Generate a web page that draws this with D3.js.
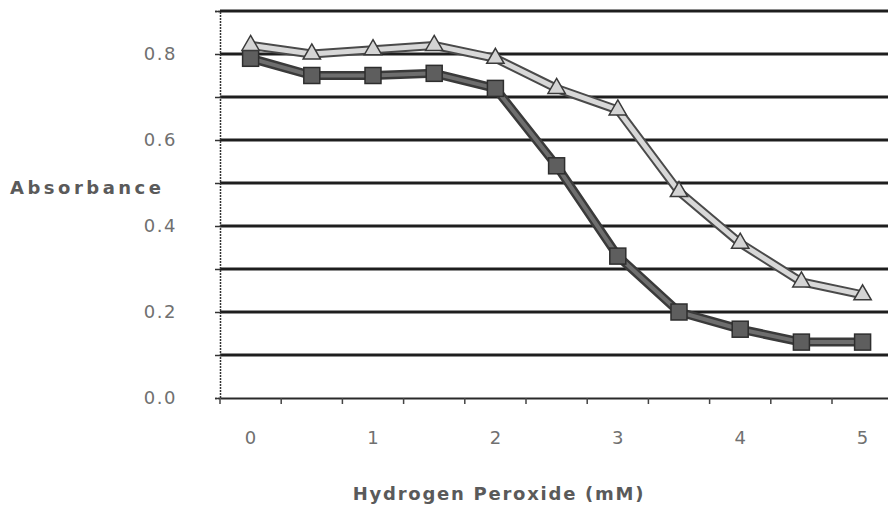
<!DOCTYPE html>
<html>
<head>
<meta charset="utf-8">
<script src="https://cdn.jsdelivr.net/npm/d3@7/dist/d3.min.js"></script>
<style>
  html, body { margin: 0; padding: 0; background: #fff; }
  svg { display: block; }
  text { font-family: "DejaVu Sans", Verdana, sans-serif; }
</style>
</head>
<body>
<svg id="chart" width="888" height="514"></svg>
<script>
// ---- data ----
const categories = ["0", "0.5", "1", "1.5", "2", "2.5", "3", "3.5", "4", "4.5", "5"];
const seriesA = [0.82, 0.80, 0.81, 0.82, 0.79, 0.72, 0.67, 0.48, 0.36, 0.27, 0.24]; // triangles (light)
const seriesB = [0.79, 0.75, 0.75, 0.755, 0.72, 0.54, 0.33, 0.20, 0.16, 0.13, 0.13]; // squares (dark)
const xTickLabels = ["0", "1", "2", "3", "4", "5"];
const yTickLabels = [0, 0.2, 0.4, 0.6, 0.8];
const yGridValues = [0.1, 0.2, 0.3, 0.4, 0.5, 0.6, 0.7, 0.8, 0.9];
const xTitle = "Hydrogen Peroxide (mM)";
const yTitle = "Absorbance";

// ---- layout ----
const svg = d3.select("#chart");
const left = 220, bandW = 61.2, bottom = 398;
const x = d3.scaleBand().domain(categories).range([left, left + bandW * categories.length]).paddingInner(0).paddingOuter(0);
const y = d3.scaleLinear().domain([0, 0.9]).range([bottom, 11]);
const cx = c => x(c) + x.bandwidth() / 2;

// gridlines
svg.append("g").selectAll("line").data(yGridValues).join("line")
  .attr("x1", left).attr("x2", 888)
  .attr("y1", d => y(d)).attr("y2", d => y(d))
  .attr("stroke", "#1e1e1e").attr("stroke-width", 3);

// y axis with small ticks at every 0.1
const yAxis = d3.axisLeft(y).tickValues(d3.range(0, 0.91, 0.1)).tickSize(5).tickFormat("");
const gy = svg.append("g").attr("transform", `translate(${left},0)`).call(yAxis);
gy.select(".domain").attr("stroke", "#333").attr("stroke-width", 1.5).attr("stroke-dasharray", "2,1");
gy.selectAll(".tick line").attr("stroke", "#333").attr("stroke-width", 1.5);

// y tick labels
svg.append("g").selectAll("text").data(yTickLabels).join("text")
  .attr("x", 177).attr("y", d => y(d) + 6)
  .attr("text-anchor", "end")
  .attr("font-size", 18).attr("letter-spacing", 1.5)
  .attr("fill", "#707070")
  .text(d => d3.format(".1f")(d));

// x axis: ticks at band boundaries
const xAxis = d3.axisBottom(x).tickSize(0).tickFormat("");
const gx = svg.append("g").attr("transform", `translate(0,${bottom})`).call(xAxis);
gx.selectAll(".tick").remove();
gx.select(".domain").attr("stroke", "#2a2a2a").attr("stroke-width", 2);
svg.append("g").selectAll("line").data(categories).join("line")
  .attr("x1", d => x(d)).attr("x2", d => x(d))
  .attr("y1", bottom).attr("y2", bottom + 6)
  .attr("stroke", "#444").attr("stroke-width", 1.5);

// x tick labels on integer categories
svg.append("g").selectAll("text").data(xTickLabels).join("text")
  .attr("x", d => cx(d)).attr("y", 444)
  .attr("text-anchor", "middle")
  .attr("font-size", 18)
  .attr("fill", "#707070")
  .text(d => d);

// axis titles
svg.append("text").attr("x", 10).attr("y", 194)
  .attr("font-size", 18).attr("font-weight", "bold").attr("letter-spacing", 3.5)
  .attr("fill", "#5a5a5a").text(yTitle);
svg.append("text").attr("x", 499).attr("y", 500).attr("text-anchor", "middle")
  .attr("font-size", 18).attr("font-weight", "bold").attr("letter-spacing", 1.75)
  .attr("fill", "#5a5a5a").text(xTitle);

// lines
const line = d3.line().x((d, i) => cx(categories[i])).y(d => y(d));

// series B (dark squares)
svg.append("path").datum(seriesB).attr("d", line)
  .attr("fill", "none").attr("stroke", "#3a3a3a").attr("stroke-width", 9).attr("stroke-linejoin", "round");
svg.append("path").datum(seriesB).attr("d", line)
  .attr("fill", "none").attr("stroke", "#6e6e6e").attr("stroke-width", 4).attr("stroke-linejoin", "round");
svg.append("g").selectAll("rect").data(seriesB).join("rect")
  .attr("x", (d, i) => cx(categories[i]) - 8).attr("y", d => y(d) - 8)
  .attr("width", 16).attr("height", 16)
  .attr("fill", "#5e5e5e").attr("stroke", "#2e2e2e").attr("stroke-width", 1.5);

// series A (light triangles)
svg.append("path").datum(seriesA).attr("d", line)
  .attr("fill", "none").attr("stroke", "#4a4a4a").attr("stroke-width", 9).attr("stroke-linejoin", "round");
svg.append("path").datum(seriesA).attr("d", line)
  .attr("fill", "none").attr("stroke", "#d8d8d8").attr("stroke-width", 5).attr("stroke-linejoin", "round");
const tri = d3.symbol().type(d3.symbolTriangle).size(130);
svg.append("g").selectAll("path").data(seriesA).join("path")
  .attr("transform", (d, i) => `translate(${cx(categories[i])},${y(d)})`)
  .attr("d", tri)
  .attr("fill", "#d4d4d4").attr("stroke", "#3a3a3a").attr("stroke-width", 1.5);
</script>
</body>
</html>
